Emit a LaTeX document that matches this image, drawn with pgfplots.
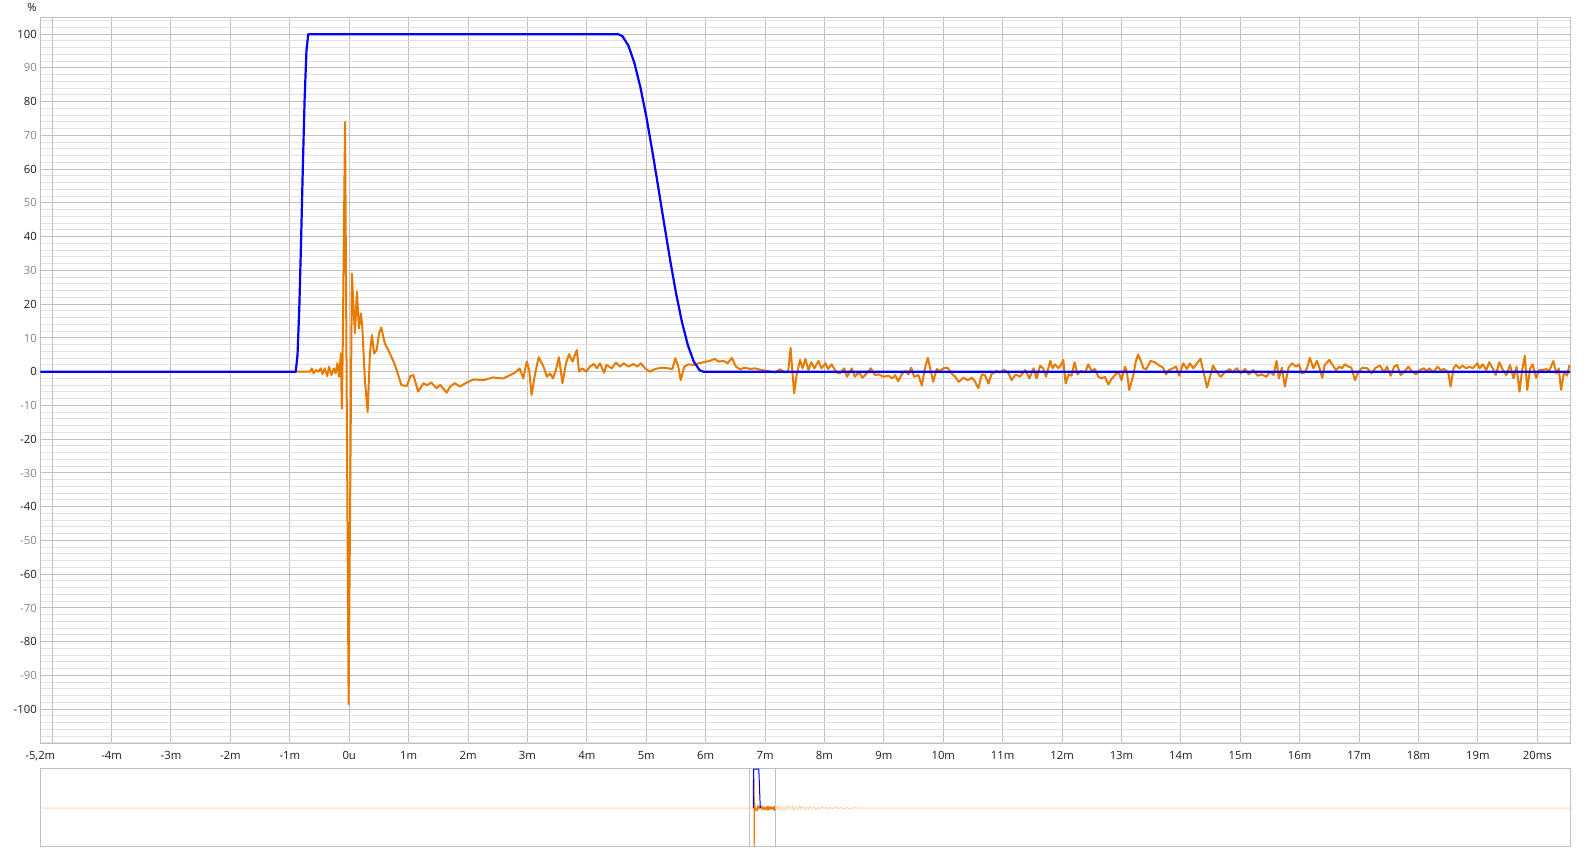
\documentclass[border=0pt]{standalone}
\usepackage{pgfplots}
\pgfplotsset{compat=1.18}
\usepackage{pgfplotstable}
\usepackage{fontspec}
\setmainfont{Open Sans}

\definecolor{rewblue}{RGB}{0,0,255}
\definecolor{reworange}{RGB}{232,122,0}
\definecolor{paleorange}{RGB}{253,214,170}
\definecolor{gridmaj}{RGB}{192,192,192}
\definecolor{gridmin}{RGB}{226,226,226}
\definecolor{labdark}{RGB}{30,30,30}
\definecolor{labgray}{RGB}{135,135,135}

% impulse response (%), time in ms
\pgfplotstableread{
t v
-0.90 0
-0.66 0
-0.63 1.0
-0.60 -0.5
-0.56 0.5
-0.52 0
-0.48 1.0
-0.45 -0.7
-0.41 1.0
-0.37 -1.3
-0.34 1.5
-0.30 -1.0
-0.26 1.0
-0.23 -0.5
-0.20 2.5
-0.17 -1.5
-0.14 5.4
-0.125 -10.9
-0.11 5.4
-0.07 74.0
-0.01 -98.5
0.045 29.1
0.096 11.4
0.13 23.7
0.163 12.8
0.197 17.3
0.22 13.3
0.264 -2.5
0.31 -11.9
0.349 5.4
0.382 10.9
0.42 5.4
0.46 6.4
0.505 11.4
0.539 13.1
0.60 8.4
0.685 5.4
0.77 2.0
0.825 -1.0
0.88 -4.0
0.97 -4.2
1.03 -1.3
1.08 -1.0
1.16 -5.9
1.25 -3.4
1.31 -4.0
1.38 -3.2
1.47 -4.9
1.53 -3.9
1.64 -6.2
1.70 -4.4
1.78 -3.4
1.86 -4.4
1.98 -3.2
2.09 -2.3
2.26 -2.5
2.42 -1.7
2.59 -2.0
2.71 -1.0
2.79 -0.3
2.87 1.0
2.93 -2.0
2.99 3.0
3.03 0.5
3.07 -6.9
3.13 -0.5
3.19 4.3
3.27 1.5
3.33 -1.5
3.38 -0.5
3.43 -2.0
3.48 0.5
3.53 4.3
3.59 -3.4
3.65 2.5
3.70 5.2
3.76 3.0
3.83 6.4
3.87 0.0
3.92 1.0
3.99 0.0
4.05 1.5
4.12 2.3
4.17 1.0
4.22 2.5
4.29 -0.3
4.33 2.0
4.42 1.0
4.49 2.7
4.56 1.5
4.62 2.5
4.70 1.5
4.78 2.3
4.85 1.5
4.91 2.5
4.98 1.0
5.06 0.0
5.15 0.8
5.26 1.2
5.37 1.0
5.44 0.8
5.49 4.0
5.54 1.5
5.58 -2.5
5.64 1.5
5.71 2.2
5.79 2.0
5.88 2.5
5.96 2.8
6.07 3.2
6.15 3.8
6.22 3.0
6.30 3.2
6.37 2.5
6.44 4.1
6.51 1.5
6.58 0.7
6.66 1.2
6.75 0.8
6.83 1.0
6.94 0.5
7.05 0.2
7.17 -0.2
7.25 0.7
7.34 -0.2
7.39 0.2
7.43 7.1
7.46 0.0
7.49 -6.4
7.53 -1.0
7.59 3.5
7.63 1.0
7.68 3.8
7.73 0.5
7.78 2.8
7.83 1.0
7.90 3.2
7.95 1.0
8.02 2.5
8.06 0.8
8.12 2.2
8.20 -0.2
8.26 -0.5
8.33 1.0
8.38 -1.5
8.46 1.0
8.51 -1.5
8.58 -0.2
8.64 -1.8
8.71 -0.5
8.78 1.0
8.85 -1.0
8.92 -0.8
8.99 -1.5
9.08 -1.2
9.14 -2.0
9.19 -1.0
9.24 -2.8
9.31 -0.5
9.37 0.2
9.41 -0.8
9.46 1.2
9.51 -1.5
9.58 -1.0
9.64 -4.1
9.69 1.0
9.74 4.1
9.78 1.0
9.83 -3.0
9.89 0.8
9.94 0.2
10.00 1.0
10.07 1.2
10.14 -0.5
10.20 -1.5
10.26 -3.0
10.34 -1.8
10.41 -2.5
10.48 -1.8
10.53 -2.8
10.59 -4.9
10.65 -0.8
10.70 -1.0
10.76 -3.5
10.81 -0.8
10.89 0.2
10.95 -0.2
11.02 0.5
11.10 -0.5
11.15 -2.5
11.22 -0.8
11.29 -1.5
11.38 0.5
11.45 -2.0
11.52 1.0
11.57 -2.0
11.63 1.8
11.68 1.0
11.73 -1.5
11.80 3.2
11.84 1.0
11.88 2.2
11.94 1.0
11.98 2.0
12.02 3.5
12.06 -3.5
12.11 -0.8
12.16 -1.2
12.21 2.8
12.26 -0.8
12.31 0.2
12.39 -0.2
12.44 2.2
12.50 0.2
12.55 0.8
12.61 -1.5
12.67 -2.0
12.72 -1.5
12.78 -3.8
12.83 -2.2
12.89 -1.0
12.95 0.0
13.00 -2.5
13.06 1.5
13.09 0.0
13.13 -5.4
13.20 -1.0
13.24 3.0
13.28 5.1
13.33 3.0
13.37 1.0
13.42 0.8
13.49 3.2
13.56 2.8
13.64 1.8
13.70 1.2
13.75 -0.8
13.80 0.5
13.86 1.0
13.92 1.5
13.97 -1.2
14.04 2.5
14.10 0.8
14.15 2.5
14.21 1.0
14.27 2.5
14.33 3.8
14.38 0.0
14.44 -4.7
14.49 -1.5
14.54 1.8
14.61 -0.2
14.67 -1.5
14.74 -0.2
14.82 0.8
14.87 -0.2
14.94 1.0
15.01 -0.5
15.08 0.8
15.14 -0.8
15.22 0.5
15.29 -1.2
15.36 -0.8
15.44 -1.5
15.50 0.0
15.56 -1.0
15.61 3.2
15.65 -2.0
15.70 1.2
15.75 -4.4
15.81 1.2
15.87 2.5
15.94 1.5
15.99 2.2
16.03 -0.5
16.09 -0.2
16.13 1.5
16.17 4.1
16.23 1.0
16.29 3.2
16.33 1.2
16.38 -1.8
16.42 2.0
16.50 3.5
16.56 1.8
16.61 0.5
16.67 1.5
16.71 1.0
16.76 2.2
16.82 1.5
16.87 1.2
16.93 -2.5
16.99 0.0
17.06 1.2
17.14 1.0
17.21 -0.5
17.28 1.2
17.35 1.8
17.42 -0.2
17.47 1.5
17.53 -1.2
17.59 1.5
17.64 2.0
17.70 -1.0
17.76 0.0
17.83 1.5
17.88 0.2
17.96 -0.8
18.02 0.5
18.09 1.0
18.14 0.2
18.18 1.0
18.25 -0.2
18.32 1.5
18.37 0.5
18.43 0.8
18.50 -0.2
18.54 -4.4
18.59 1.0
18.63 2.0
18.69 1.0
18.74 1.8
18.80 1.0
18.86 1.5
18.91 1.0
18.99 2.5
19.03 1.0
19.08 2.2
19.14 0.5
19.19 2.8
19.25 1.0
19.30 -1.0
19.36 2.8
19.42 0.5
19.48 -1.0
19.54 2.0
19.60 -2.0
19.65 1.5
19.70 -5.9
19.74 0.0
19.79 4.7
19.83 -5.4
19.88 1.0
19.92 2.2
19.98 -1.8
20.03 0.5
20.09 0.5
20.15 0.8
20.20 0.2
20.27 3.2
20.32 -0.5
20.36 1.0
20.40 -5.4
20.45 0.0
20.50 -1.2
20.54 2.0
}\irdata

% window (%)
\pgfplotstableread{
t v
-5.20 0
-0.90 0
-0.87 5.0
-0.84 18.9
-0.81 38.9
-0.78 61.1
-0.75 81.1
-0.72 95.0
-0.69 100
4.53 100
4.60 99.4
4.70 96.6
4.80 91.5
4.90 84.4
5.00 75.7
5.10 65.6
5.20 54.9
5.30 44.0
5.40 33.3
5.50 23.4
5.60 14.8
5.70 7.9
5.80 3.0
5.90 0.4
5.96 0
20.55 0
}\windata

% faint tail in the overview
\pgfplotstableread{
t v
-707 0
20.5 0
22 6
23.5 -4
25 8
26 -7
28 5
29.5 -8
31 4
33 -5
34 7
36 -3
38 6
39 -6
41 3
43 -5
45 6
46 -2
48 4
50 -5
52 3
54 -4
55 5
57 -2
59 3
61 -4
63 2
65 -3
67 4
69 -2
71 2
73 -3
75 2
78 -2
80 3
83 -1.5
86 2
89 -2
92 1
95 -1.5
99 1
103 0
808 0
}\taildata

\begin{document}
\begin{tikzpicture}
\begin{axis}[
  at={(40.3pt,107pt)}, anchor=south west, scale only axis,
  width=1529.7pt, height=726pt,
  xmin=-5.2, xmax=20.55, ymin=-110.3, ymax=104.8,
  axis line style={draw=gridmaj, line width=1pt},
  tick style={draw=none},
  xtick={-5.2,-4,-3,...,20},
  xticklabels={-5{,}2m,-4m,-3m,-2m,-1m,0u,1m,2m,3m,4m,5m,6m,7m,8m,9m,10m,11m,12m,13m,14m,15m,16m,17m,18m,19m,20ms},
  extra x ticks={-5}, extra x tick labels={},
  extra x tick style={grid=major},
  ytick={-100,-80,...,100},
  yticklabels={-100,-80,-60,-40,-20,0,20,40,60,80,100},
  extra y ticks={-90,-70,-50,-30,-10,10,30,50,70,90},
  extra y tick labels={-90,-70,-50,-30,-10,10,30,50,70,90},
  extra y tick style={grid=major, tick label style={text=labgray}},
  minor ytick={-110,-108,...,104},
  grid=both,
  major grid style={draw=gridmaj, line width=1pt},
  minor grid style={draw=gridmin, line width=1pt},
  tick label style={font=\fontsize{11.3}{13}\selectfont, text=labdark},
  xticklabel style={yshift=-4pt},
  every axis plot/.append style={no markers, line join=round},
]
\addplot[reworange, line width=2pt] table[x=t,y=v]{\irdata};
\addplot[rewblue, line width=2.2pt] table[x=t,y=v]{\windata};
\end{axis}

\begin{axis}[
  at={(40.3pt,4pt)}, anchor=south west, scale only axis,
  width=1530pt, height=78.7pt,
  xmin=-707, xmax=808, ymin=-100, ymax=102,
  axis line style={draw=gridmaj, line width=1pt},
  tick style={draw=none},
  xtick={-5.2,20.55}, xticklabels={},
  xticklabel style={overlay},
  ytick=\empty,
  xmajorgrids,
  major grid style={draw=gridmaj, line width=1pt},
  every axis plot/.append style={no markers, line join=round},
]
\addplot[paleorange, line width=1pt] table[x=t,y=v]{\taildata};
\addplot[reworange, line width=1pt] table[x=t,y=v]{\irdata};
\addplot[rewblue, line width=1pt] coordinates {(-0.9,0) (-0.69,100) (4.53,100) (5.96,0)};
\end{axis}

\node[font=\fontsize{11.3}{13}\selectfont, text=labdark, inner sep=0pt] at (32pt,844pt) {\%};
\path (0pt,0pt) rectangle (1590pt,851pt);
\end{tikzpicture}
\end{document}
